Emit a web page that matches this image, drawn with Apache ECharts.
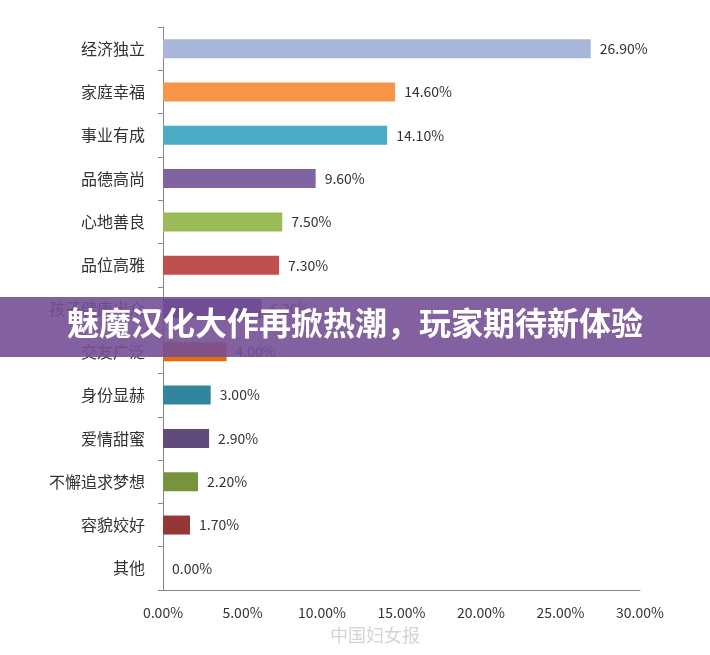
<!DOCTYPE html>
<html><head><meta charset="utf-8">
<script src="https://cdn.jsdelivr.net/npm/echarts@6/dist/echarts.min.js"></script>
<style>html,body{margin:0;background:#fff}#c{width:710px;height:655px}</style>
</head><body><div id="c"></div>
<script>
const categories = ['经济独立', '家庭幸福', '事业有成', '品德高尚', '心地善良', '品位高雅', '孩子健康出众', '交友广泛', '身份显赫', '爱情甜蜜', '不懈追求梦想', '容貌姣好', '其他'];
const values = [26.9, 14.6, 14.1, 9.6, 7.5, 7.3, 6.2, 4.0, 3.0, 2.9, 2.2, 1.7, 0.0];
const colors = ['#a7b6d9', '#f79646', '#4bacc6', '#8064a2', '#9bbb59', '#c0504d', '#403a8e', '#e46c0a', '#31859c', '#604a7b', '#77933c', '#953735', '#cccccc'];

const chart = echarts.init(document.getElementById('c'));
const font = '"Noto Sans CJK SC", "Liberation Sans", sans-serif';
chart.setOption({
  animation: false,
  grid: { left: 163, right: 70, top: 27, bottom: 65 },
  xAxis: {
    type: 'value', min: 0, max: 30, interval: 5,
    axisLine: { show: true, lineStyle: { color: '#888' } },
    axisTick: { show: false },
    splitLine: { show: false },
    axisLabel: { formatter: v => v.toFixed(2) + '%', color: '#333', fontSize: 14, fontFamily: font, margin: 16 }
  },
  yAxis: {
    type: 'category', data: categories, inverse: true,
    axisLine: { lineStyle: { color: '#888' } },
    axisTick: { show: true, lineStyle: { color: '#888' } },
    axisLabel: { color: '#333', fontSize: 16, fontFamily: font, margin: 18 }
  },
  series: [{
    type: 'bar', barWidth: 19,
    data: values.map((v, i) => ({ value: v, itemStyle: { color: colors[i] } })),
    label: { show: true, position: 'right', distance: 9, formatter: p => p.value.toFixed(2) + '%', color: '#333', fontSize: 14, fontFamily: font }
  }],
  graphic: [
    { type: 'rect', left: 0, top: 297, shape: { width: 710, height: 60 }, style: { fill: 'rgba(118,80,150,0.9)' }, z: 100 },
    { type: 'text', left: 'center', top: 307, style: { text: '魅魔汉化大作再掀热潮，玩家期待新体验', fill: '#fff', font: 'bold 32px "Noto Sans CJK SC", sans-serif' }, z: 101 },
    { type: 'text', left: 330, top: 626, style: { text: '中国妇女报', fill: 'rgba(160,160,160,0.45)', font: '18px "Noto Sans CJK SC", sans-serif' }, z: 99 }
  ]
});
</script></body></html>
